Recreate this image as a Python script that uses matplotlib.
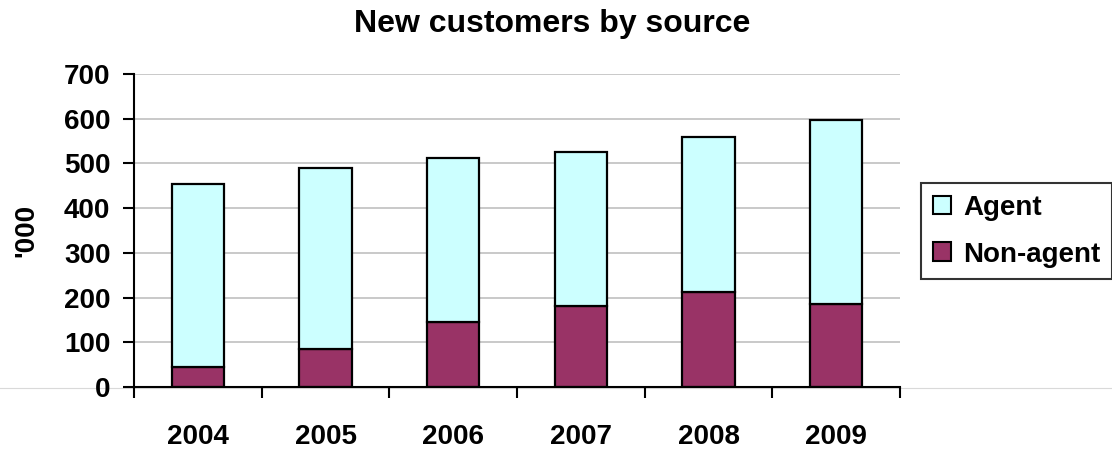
import matplotlib
matplotlib.use("Agg")
import matplotlib.pyplot as plt
from matplotlib.lines import Line2D
import numpy as np

years = ["2004", "2005", "2006", "2007", "2008", "2009"]
non_agent = [44, 84, 146, 182, 213, 186]
agent = [411, 406, 367, 344, 345, 412]

plt.rcParams['font.family'] = ['Liberation Sans', 'DejaVu Sans']
plt.rcParams['font.weight'] = 'bold'

W, H = 1112, 450
fig = plt.figure(figsize=(W / 100, H / 100), dpi=100)
ax = fig.add_axes([134 / W, (H - 387) / H, 766 / W, 313 / H])

x = np.arange(len(years))
bw = 0.41
ax.bar(x, non_agent, width=bw, color="#993366", edgecolor="black", linewidth=1.6,
       label="Non-agent", zorder=3)
ax.bar(x, agent, width=bw, bottom=non_agent, color="#CCFFFF", edgecolor="black",
       linewidth=1.6, label="Agent", zorder=3)

ax.set_xlim(-0.5, len(years) - 0.5)
ax.set_ylim(0, 700)
ax.set_yticks(range(0, 701, 100))
ax.yaxis.grid(True, color="#C0C0C0", linewidth=1.2, zorder=0)
ax.set_axisbelow(True)

# category boundary ticks (major), labels at centres (minor)
ax.set_xticks(np.arange(-0.5, len(years), 1.0))
ax.set_xticklabels([])
ax.set_xticks(x, minor=True)
ax.set_xticklabels(years, minor=True, fontsize=20, fontweight='bold')
ax.tick_params(axis='x', which='major', length=8, width=1.5, direction='out')
ax.tick_params(axis='x', which='minor', length=0, pad=27)
ax.tick_params(axis='y', length=8, width=1.5, direction='out', pad=9, labelsize=20)
for lab in ax.get_yticklabels():
    lab.set_fontweight('bold')

for s in ['top', 'right']:
    ax.spines[s].set_visible(False)
for s in ['left', 'bottom']:
    ax.spines[s].set_linewidth(1.5)
    ax.spines[s].set_color("black")
    ax.spines[s].set_zorder(4)

ax.set_ylabel("'000", fontsize=20, fontweight='bold', labelpad=18)

fig.text(552 / W, 1 - 24 / H, "New customers by source", ha='center', va='center',
         fontsize=23, fontweight='bold')

# faint plot-area border line across the figure
fig.add_artist(Line2D([0, 1], [(H - 387.5) / H] * 2, transform=fig.transFigure,
                      color="#D9D9D9", linewidth=0.8, zorder=0))

handles, labels = ax.get_legend_handles_labels()
leg = fig.legend(handles[::-1], labels[::-1], loc='upper left',
                 bbox_to_anchor=(921 / W, 1 - 183 / H), bbox_transform=fig.transFigure,
                 prop={'weight': 'bold', 'size': 20}, frameon=True, fancybox=False,
                 edgecolor='black', borderaxespad=0, borderpad=0.42,
                 handlelength=0.65, handleheight=0.65, handletextpad=0.45,
                 labelspacing=0.75)
leg.get_frame().set_linewidth(1.5)
for h in leg.legend_handles:
    h.set_linewidth(1.5)

fig.savefig("out.png", dpi=100)
